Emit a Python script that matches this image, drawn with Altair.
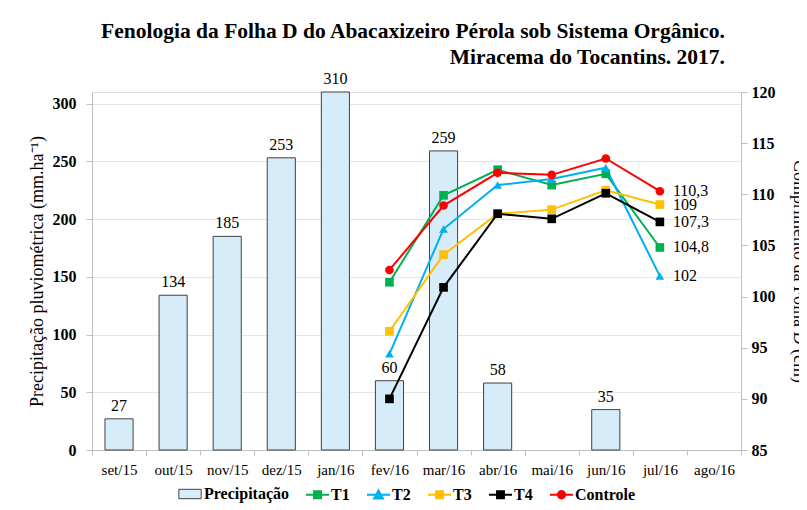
import altair as alt
import pandas as pd

meses = ["set/15", "out/15", "nov/15", "dez/15", "jan/16", "fev/16",
         "mar/16", "abr/16", "mai/16", "jun/16", "jul/16", "ago/16"]
prec_meses = ["set/15", "out/15", "nov/15", "dez/15", "jan/16", "fev/16",
              "mar/16", "abr/16", "jun/16"]
precipitacao = [27, 134, 185, 253, 310, 60, 259, 58, 35]

meses_folha = ["fev/16", "mar/16", "abr/16", "mai/16", "jun/16", "jul/16"]
t1 = [101.4, 109.9, 112.4, 110.9, 112.0, 104.8]
t2 = [94.4, 106.6, 110.9, 111.5, 112.6, 102.0]
t3 = [96.6, 104.1, 108.1, 108.5, 110.4, 109.0]
t4 = [90.0, 100.9, 108.1, 107.6, 110.1, 107.3]
controle = [102.6, 108.9, 112.1, 111.9, 113.5, 110.3]

tratamentos = ["T1", "T2", "T3", "T4", "Controle"]
cores = ["#00b050", "#00b0f0", "#ffc000", "#000000", "#ff0000"]
formas = ["square", "triangle-up", "square", "square", "circle"]
rotulos_finais = ["104,8", "102", "109", "107,3", "110,3"]

FONT = "Liberation Serif"

# legend symbols: a short line with the marker in the middle
SQ = "M-1,0H1M-0.3,-0.3H0.3V0.3H-0.3Z"
TR = "M-1,0H1M0,-0.38L0.38,0.32H-0.38Z"
CI = "M-1,0H1M0.32,0A0.32,0.32,0,1,1,-0.32,0A0.32,0.32,0,1,1,0.32,0Z"
formas_legenda = [SQ, TR, SQ, SQ, CI]

df_bar = pd.DataFrame({"mes": prec_meses, "prec": precipitacao,
                       "leg": ["Precipitação"] * len(prec_meses)})

rows = []
for nome, serie, forma in zip(tratamentos, [t1, t2, t3, t4, controle], formas):
    for m, v in zip(meses_folha, serie):
        rows.append({"mes": m, "valor": v, "trat": nome, "forma": forma})
df_lin = pd.DataFrame(rows)

df_end = pd.DataFrame({"mes": [meses_folha[-1]] * 5,
                       "valor": [s[-1] for s in [t1, t2, t3, t4, controle]],
                       "rot": rotulos_finais})

x_enc = alt.X("mes:N", sort=meses,
              scale=alt.Scale(domain=meses, paddingInner=0, paddingOuter=0),
              axis=alt.Axis(title=None, labelAngle=0, labelFontSize=15,
                            labelColor="black", labelFont=FONT,
                            ticks=True, tickBand="extent", tickSize=5,
                            tickColor="#bfbfbf", domainColor="#bfbfbf",
                            labelPadding=7, grid=False))

y_left = alt.Y("prec:Q",
               scale=alt.Scale(domain=[0, 310], nice=False),
               axis=alt.Axis(values=[0, 50, 100, 150, 200, 250, 300],
                             title="Precipitação pluviométrica (mm.ha⁻¹)",
                             titleFontSize=18, titleFontWeight="normal",
                             titleFont=FONT, titleColor="black", titlePadding=6,
                             labelFontSize=16, labelFontWeight="bold",
                             labelFont=FONT, labelColor="black",
                             tickColor="#bfbfbf", tickSize=6, labelPadding=10,
                             domainColor="#bfbfbf", grid=True,
                             gridColor="#e6e6e6"))

bars = alt.Chart(df_bar).mark_bar(
    stroke="#404040", strokeWidth=1, width=alt.RelativeBandSize(0.52)
).encode(
    x=x_enc, y=y_left,
    fill=alt.Fill("leg:N",
                  scale=alt.Scale(domain=["Precipitação"], range=["#d6ecf9"]),
                  legend=alt.Legend(title=None, orient="none",
                                    legendX=86, legendY=390,
                                    symbolType="M-1,-0.42H1V0.42H-1Z",
                                    symbolSize=500, symbolStrokeColor="#404040",
                                    symbolStrokeWidth=1, labelFontSize=16,
                                    labelFontWeight="bold", labelFont=FONT,
                                    labelColor="black", labelOffset=2))
)

bar_text = alt.Chart(df_bar).mark_text(
    dy=-5, baseline="bottom", fontSize=16, font=FONT, color="black"
).encode(x=alt.X("mes:N", sort=meses), y=alt.Y("prec:Q"), text="prec:Q")

left = alt.layer(bars, bar_text)

y_right = alt.Y("valor:Q",
                scale=alt.Scale(domain=[85, 120], nice=False),
                axis=alt.Axis(values=[85, 90, 95, 100, 105, 110, 115, 120],
                              orient="right",
                              title="Comprimento da Folha D (cm)",
                              titleFontSize=18, titleFontWeight="normal",
                              titleFont=FONT, titleColor="black",
                              titlePadding=14,
                              labelFontSize=16, labelFontWeight="bold",
                              labelFont=FONT, labelColor="black",
                              tickColor="#bfbfbf", tickSize=6, labelPadding=4,
                              domainColor="#bfbfbf", grid=False))

color_scale = alt.Scale(domain=tratamentos, range=cores)

leg_common = dict(title=None, orient="none", direction="horizontal", columns=5,
                  legendX=213, legendY=390, symbolSize=529,
                  symbolStrokeWidth=2, symbolOpacity=1,
                  labelFontSize=16, labelFontWeight="bold", labelFont=FONT,
                  labelColor="black", labelOffset=1, columnPadding=13)
legenda = alt.Legend(**leg_common)

cor = alt.Color("trat:N", scale=color_scale, legend=legenda)

lines = alt.Chart(df_lin).mark_line(strokeWidth=2).encode(
    x=alt.X("mes:N", sort=meses), y=y_right, color=cor, detail="trat:N",
)


def pontos(forma):
    return alt.Chart(df_lin).transform_filter(
        alt.datum.forma == forma
    ).mark_point(filled=True, size=75, opacity=1, shape=forma).encode(
        x=alt.X("mes:N", sort=meses), y=alt.Y("valor:Q"), color=cor,
    )


legend_layer = alt.Chart(df_lin).mark_point(filled=True, opacity=0).encode(
    x=alt.X("mes:N", sort=meses), y=alt.Y("valor:Q"),
    color=cor,
    shape=alt.Shape("trat:N",
                    scale=alt.Scale(domain=tratamentos, range=formas_legenda),
                    legend=legenda),
)

end_text = alt.Chart(df_end).mark_text(
    align="left", baseline="middle", dx=13, fontSize=16, font=FONT,
    color="black"
).encode(x=alt.X("mes:N", sort=meses), y=alt.Y("valor:Q"), text="rot:N")

right = alt.layer(lines, pontos("square"), pontos("triangle-up"),
                  pontos("circle"), legend_layer, end_text)

chart = alt.layer(left, right).resolve_scale(
    y="independent"
).properties(
    width=649, height=358,
    padding={"left": 84, "top": 84, "right": 58, "bottom": 54},
    autosize=alt.AutoSizeParams(type="none"),
    title=alt.TitleParams(
        text=["Fenologia da Folha D do Abacaxizeiro Pérola sob Sistema Orgânico.",
              "Miracema do Tocantins. 2017."],
        anchor="end", align="right", frame="group", dx=-16, offset=3,
        fontSize=21.5, font=FONT, fontWeight="bold", color="black",
        lineHeight=26),
).configure_view(stroke=None).configure(font=FONT)

chart.save("out.html", embed_options={"renderer": "svg", "actions": False})
